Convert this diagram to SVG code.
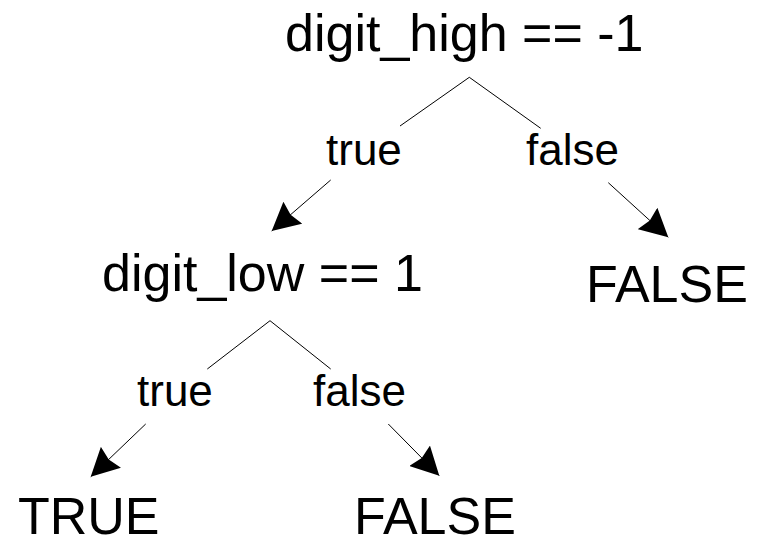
<svg xmlns="http://www.w3.org/2000/svg" width="760" height="539" viewBox="0 0 760 539">
<defs>
<style>
text{font-family:"Liberation Sans",Arial,sans-serif;fill:#000}
.big{font-size:52px}
.lbl{font-size:44px}
.c line{stroke:#000;stroke-width:1}
</style>
<marker id="ah" viewBox="0 0 28 29" refX="28" refY="14.5" markerWidth="28" markerHeight="29" markerUnits="userSpaceOnUse" orient="auto">
<path d="M0,0 L28,14.5 L0,29 L3,14.5 Z" fill="#000"/>
</marker>
</defs>
<rect width="760" height="539" fill="#fff"/>
<g id="n1"><text class="big" x="285" y="51">digit_high == -1</text></g>
<g id="n2"><text class="big" x="102" y="291">digit_low == 1</text></g>
<g id="n3"><text class="big" x="586" y="302">FALSE</text></g>
<g id="n4"><text class="big" x="18" y="534">TRUE</text></g>
<g id="n5"><text class="big" x="354" y="534">FALSE</text></g>
<g id="labels">
<text class="lbl" x="326" y="165">true</text>
<text class="lbl" x="526" y="165">false</text>
<text class="lbl" x="137" y="406">true</text>
<text class="lbl" x="313" y="406">false</text>
</g>
<g id="connectors" class="c">
<line x1="469.3" y1="77.3" x2="400" y2="126"/>
<line x1="469.3" y1="77.3" x2="540.7" y2="128.3"/>
<line x1="330.7" y1="180" x2="271.7" y2="231" marker-end="url(#ah)"/>
<line x1="608.3" y1="182.7" x2="668.3" y2="237.3" marker-end="url(#ah)"/>
<line x1="270" y1="320.7" x2="207.3" y2="369"/>
<line x1="270" y1="320.7" x2="330.7" y2="369"/>
<line x1="145.7" y1="424" x2="90.7" y2="476.7" marker-end="url(#ah)"/>
<line x1="388.3" y1="424" x2="439.3" y2="475.7" marker-end="url(#ah)"/>
</g>
</svg>
